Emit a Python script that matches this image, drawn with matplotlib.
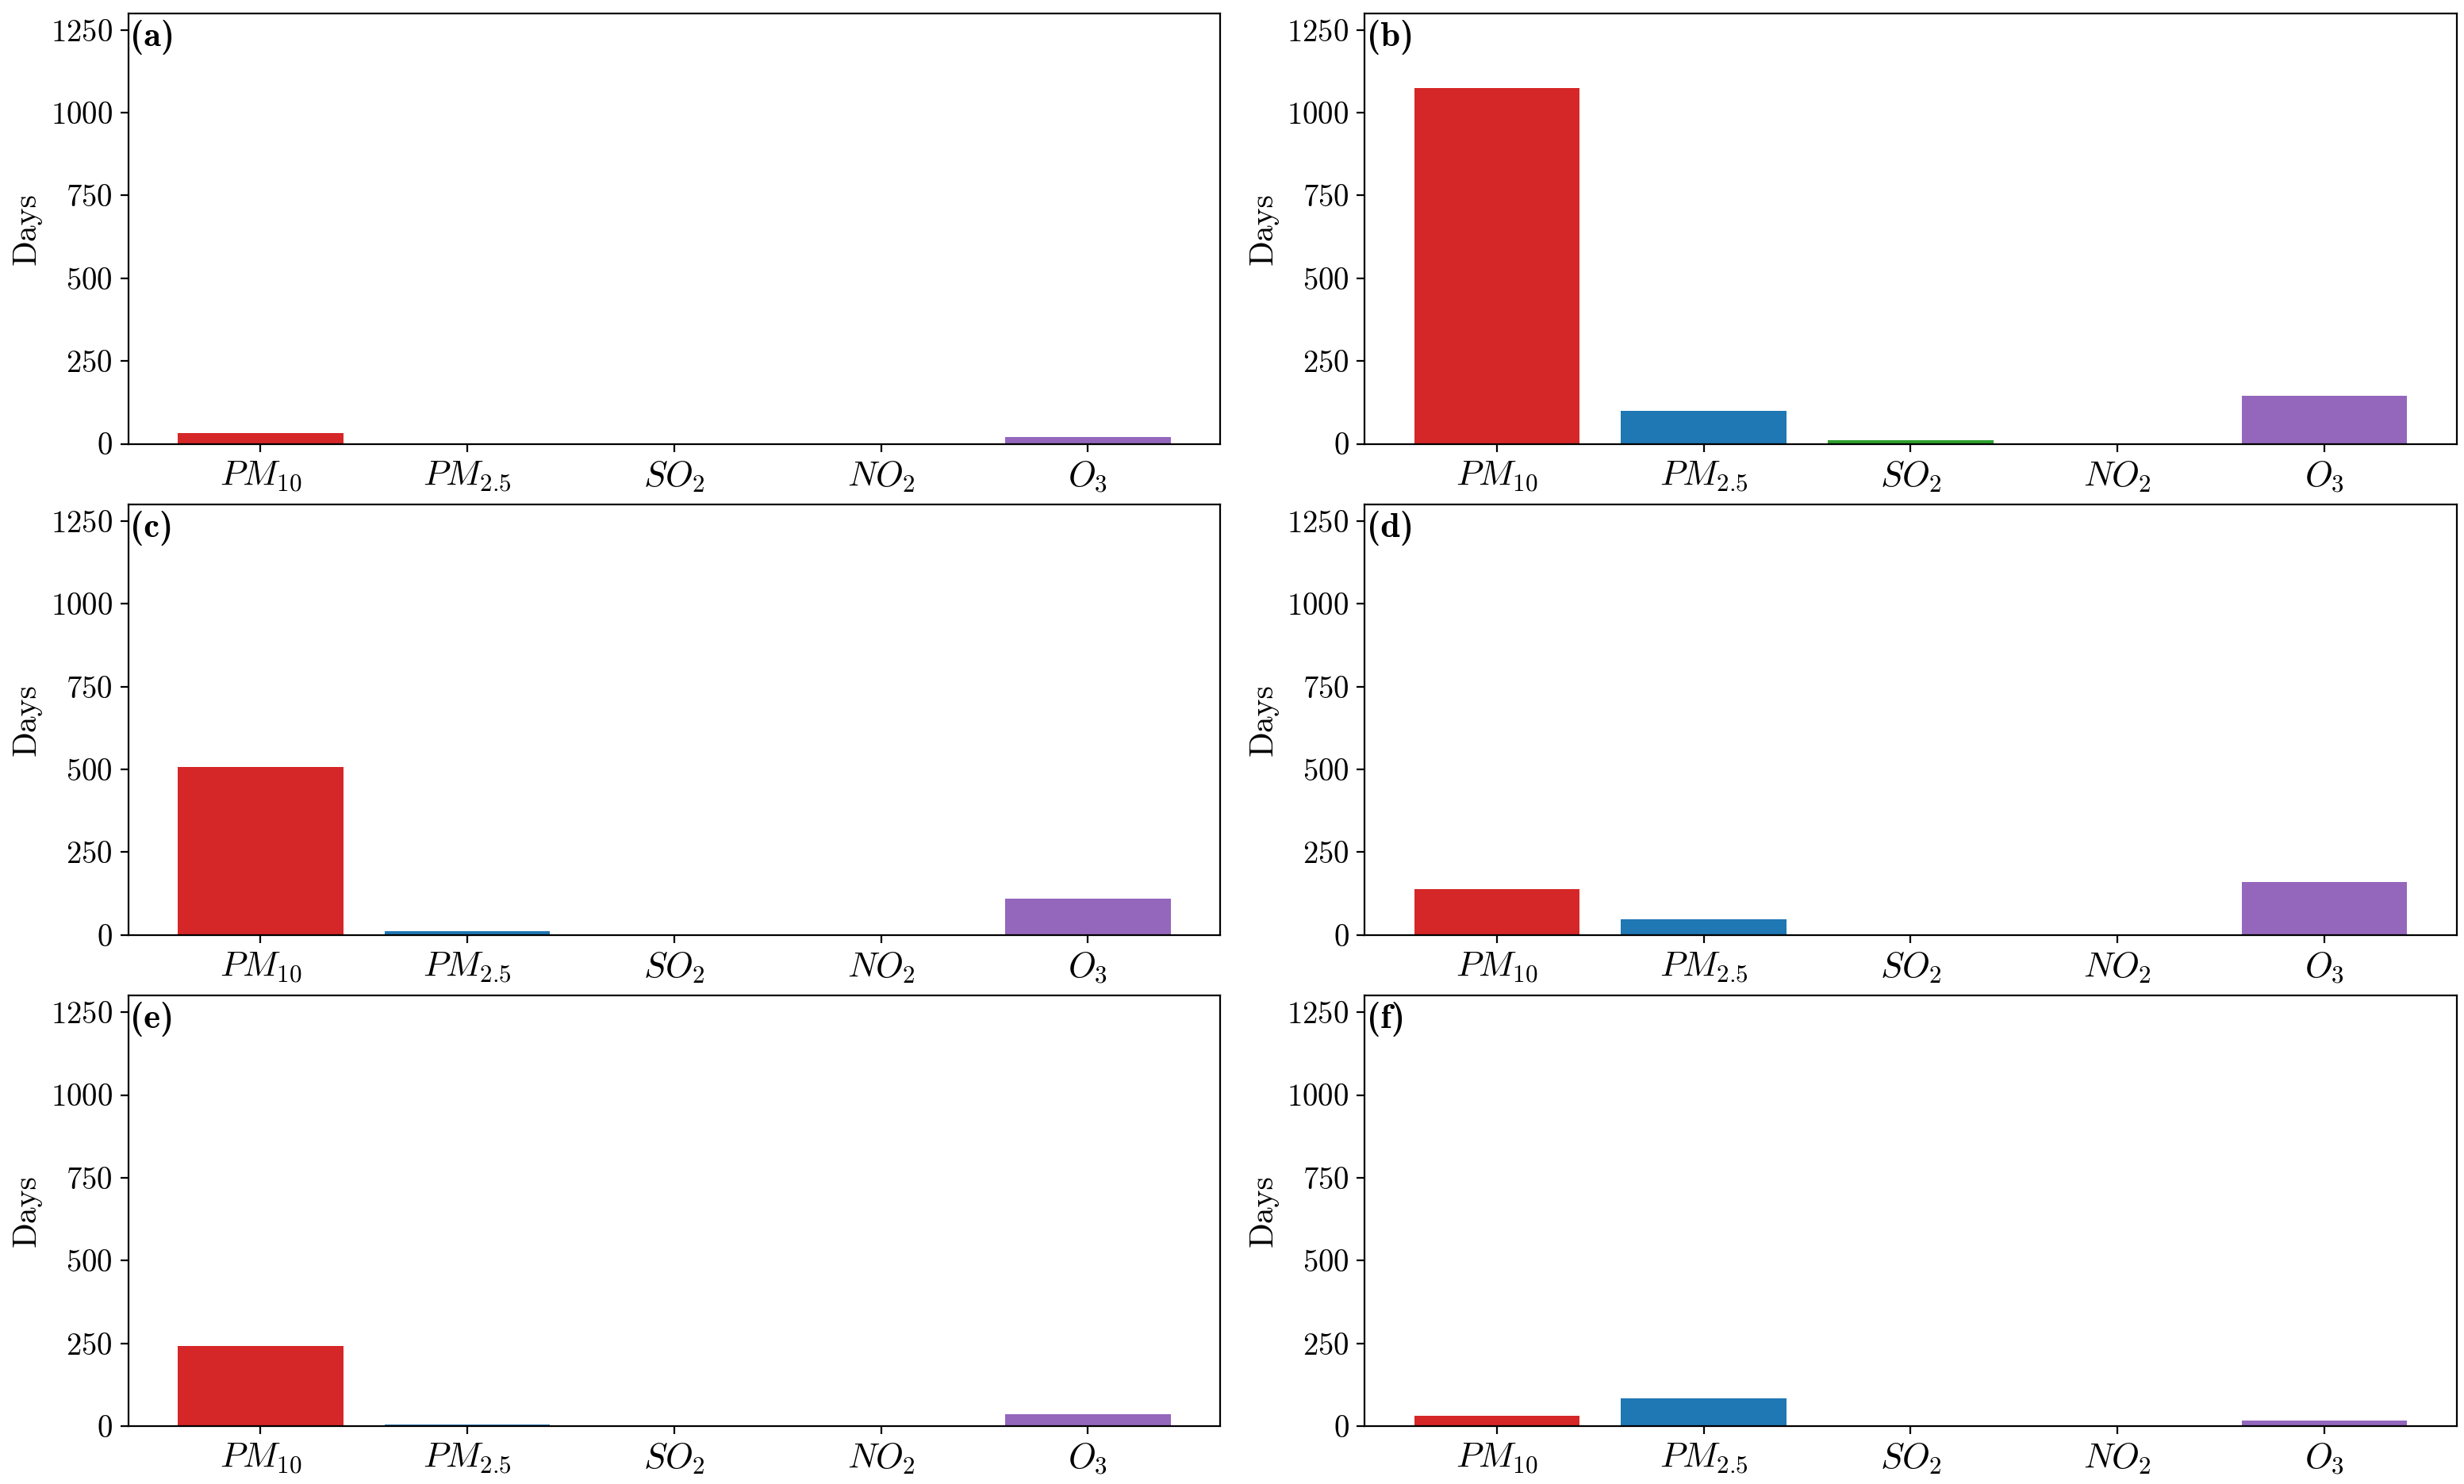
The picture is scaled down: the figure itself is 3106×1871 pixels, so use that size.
import numpy as np
import matplotlib
matplotlib.use('Agg')
import matplotlib.pyplot as plt

# estilo tipo LaTeX (Computer Modern)
plt.rcParams['font.family'] = 'serif'
plt.rcParams['font.serif'] = ['cmr10']
plt.rcParams['mathtext.fontset'] = 'cm'
plt.rcParams['axes.formatter.use_mathtext'] = True
plt.rcParams['font.size'] = 14

# contaminantes
contaminantes = [r'$PM_{10}$', r'$PM_{2.5}$', r'$SO_2$', r'$NO_2$', r'$O_3$']
colores = ['tab:red', 'tab:blue', 'tab:green', 'tab:orange', 'tab:purple']

# dias por panel
dias_a = [32, 0, 0, 0, 21]
dias_b = [1075, 99, 11, 0, 145]
dias_c = [507, 11, 0, 0, 109]
dias_d = [138, 47, 0, 0, 159]
dias_e = [241, 6, 0, 0, 36]
dias_f = [31, 83, 0, 0, 16]

paneles = ['(a)', '(b)', '(c)', '(d)', '(e)', '(f)']
datos = [dias_a, dias_b, dias_c, dias_d, dias_e, dias_f]

fig, axs = plt.subplots(3, 2, figsize=(15.53, 9.355), dpi=200)
plt.subplots_adjust(left=0.052, right=0.997, top=0.991, bottom=0.039,
                    wspace=0.132, hspace=0.141)

x = np.arange(len(contaminantes))
for ax, dias, etiqueta in zip(axs.flat, datos, paneles):
    ax.bar(x, dias, color=colores, width=0.8)
    ax.set_xticks(x)
    ax.set_xticklabels(contaminantes, fontsize=16)
    ax.set_ylim(0, 1300)
    ax.set_yticks([0, 250, 500, 750, 1000, 1250])
    ax.set_ylabel('Days', fontsize=15)
    ax.text(0.002, 0.985, etiqueta, transform=ax.transAxes, va='top', ha='left',
            fontsize=16, fontfamily='cmb10')

plt.savefig('out.png', dpi=200)
